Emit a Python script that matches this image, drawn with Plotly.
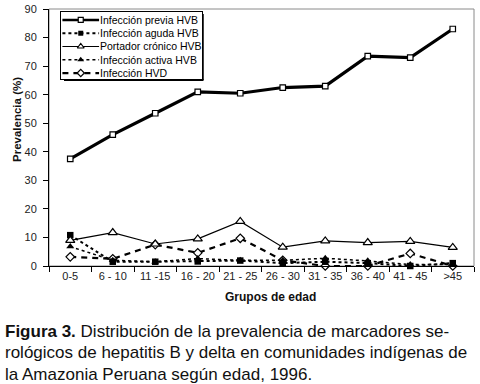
import plotly.graph_objects as go

groups = ["0-5", "6 - 10", "11 -15", "16 - 20", "21 - 25", "26 - 30", "31 - 35", "36 - 40", "41 - 45", ">45"]
previa = [37.5, 46, 53.5, 61, 60.5, 62.5, 63, 73.5, 73, 83]
aguda = [10.8, 1.5, 1.5, 1.6, 1.9, 1.0, 1.5, 1.0, 0.0, 1.0]
portador = [9, 11.7, 7.7, 9.5, 15.6, 6.6, 8.8, 8.2, 8.6, 6.5]
activa = [6.8, 2.0, 1.5, 2.6, 2.0, 2.0, 2.7, 1.8, 0.5, 0.5]
hvd = [3.2, 2.5, 7.5, 4.6, 9.7, 2.0, 0.0, 0.0, 4.4, 0.0]
names = ["Infección previa HVB", "Infección aguda HVB", "Portador crónico HVB",
         "Infección activa HVB", "Infección HVD"]
yticks = [0, 10, 20, 30, 40, 50, 60, 70, 80, 90]

FONT = "Liberation Sans, Arial, sans-serif"
W, H = 480, 384
L, R, T, B = 49, 6, 9, 118
pw, ph = W - L - R, H - T - B

def px(xp):
    return (xp - L) / pw

def py(yp):
    return (H - B - yp) / ph

styles = [
    dict(line=dict(color="black", width=3.2),
         marker=dict(symbol="square", size=5.5, color="white", line=dict(color="black", width=1.2))),
    dict(line=dict(color="black", width=2, dash="dot"),
         marker=dict(symbol="square", size=6.5, color="black")),
    dict(line=dict(color="black", width=1.2),
         marker=dict(symbol="triangle-up", size=8, color="white", line=dict(color="black", width=1.2))),
    dict(line=dict(color="black", width=1.5, dash="dot"),
         marker=dict(symbol="triangle-up", size=7, color="black")),
    dict(line=dict(color="black", width=2.2, dash="6px,5px"),
         marker=dict(symbol="diamond", size=6.5, color="white", line=dict(color="black", width=1.2))),
]
leg_sizes = [5, 5, 6, 6, 5.5]
series = [previa, aguda, portador, activa, hvd]

fig = go.Figure()
draw_order = [4, 3, 1, 2, 0]
for i in draw_order:
    fig.add_trace(go.Scatter(x=groups, y=series[i], mode="lines+markers", name=names[i],
                             showlegend=False, cliponaxis=False, **styles[i]))

# manual legend in inset axes
for i, nm in enumerate(names):
    st = styles[i]
    lw = dict(st["line"])
    lw["width"] = min(lw["width"], 2.5)
    mk = dict(st["marker"])
    mk["size"] = leg_sizes[i]
    fig.add_trace(go.Scatter(x=[0.01, 0.27], y=[i, i], mode="lines", line=lw,
                             xaxis="x2", yaxis="y2", showlegend=False, hoverinfo="skip"))
    fig.add_trace(go.Scatter(x=[0.14], y=[i], mode="markers", marker=mk,
                             xaxis="x2", yaxis="y2", showlegend=False, hoverinfo="skip"))
    fig.add_annotation(x=0.265, y=i, xref="x2", yref="y2", text=nm, showarrow=False,
                       xanchor="left", yanchor="middle",
                       font=dict(family=FONT, size=10.5, color="black"))

# legend shadow
fig.add_shape(type="line", xref="paper", yref="paper", x0=px(64), x1=px(203.5), y0=py(80), y1=py(80),
              line=dict(color="black", width=2))
fig.add_shape(type="line", xref="paper", yref="paper", x0=px(203), x1=px(203), y0=py(80), y1=py(14),
              line=dict(color="black", width=1.5))

# frame (gray top/right)
fig.add_shape(type="rect", xref="paper", yref="paper", x0=0, x1=1, y0=0, y1=1,
              line=dict(color="#8a8a8a", width=1), layer="below")

fig.add_annotation(x=px(17), y=py(120), xref="paper", yref="paper", text="<b>Prevalencia (%)</b>",
                   textangle=-90, showarrow=False, xanchor="center", yanchor="middle",
                   font=dict(family=FONT, size=11.5, color="#111"))
fig.add_annotation(x=px(270), y=py(297), xref="paper", yref="paper", text="<b>Grupos de edad</b>",
                   showarrow=False, xanchor="center", yanchor="middle",
                   font=dict(family=FONT, size=12, color="#111"))

caption = [
    "<b>Figura 3.</b> Distribución de la prevalencia de marcadores se-",
    "rológicos de hepatitis B y delta en comunidades indígenas de",
    "la Amazonia Peruana según edad, 1996.",
]
for k, line in enumerate(caption):
    fig.add_annotation(x=px(3), y=py(331 + 21.5 * k), xref="paper", yref="paper", text=line,
                       showarrow=False, xanchor="left", yanchor="middle",
                       font=dict(family=FONT, size=17, color="#111"))

fig.update_layout(
    width=W, height=H,
    margin=dict(l=L, r=R, t=T, b=B),
    paper_bgcolor="white", plot_bgcolor="white",
    font=dict(family=FONT, size=11, color="#222"),
    xaxis=dict(type="category", showline=True, linecolor="black", linewidth=1,
               ticks="outside", tickson="boundaries", ticklen=5, tickcolor="black",
               showgrid=False, zeroline=False, tickfont=dict(size=11, color="#222"),
               tickangle=0, range=[-0.5, len(groups) - 0.5], automargin=False),
    yaxis=dict(range=[0, 90], tickvals=yticks, showline=True, linecolor="black", linewidth=1,
               ticks="outside", ticklen=5, tickcolor="black", showgrid=False, zeroline=False,
               tickfont=dict(size=11, color="#222"), ticklabelstandoff=4, automargin=False),
    xaxis2=dict(domain=[px(61), px(202)], anchor="y2", range=[0, 1], showline=True, mirror=True,
                linecolor="black", linewidth=1, showgrid=False, zeroline=False,
                showticklabels=False, ticks=""),
    yaxis2=dict(domain=[py(79), py(12)], anchor="x2", range=[4.45, -0.6], showline=True,
                mirror=True, linecolor="black", linewidth=1, showgrid=False, zeroline=False,
                showticklabels=False, ticks=""),
    hovermode=False,
)

fig.write_html("out.html", config={"displayModeBar": False},
               post_script="document.body.style.margin='0';")
